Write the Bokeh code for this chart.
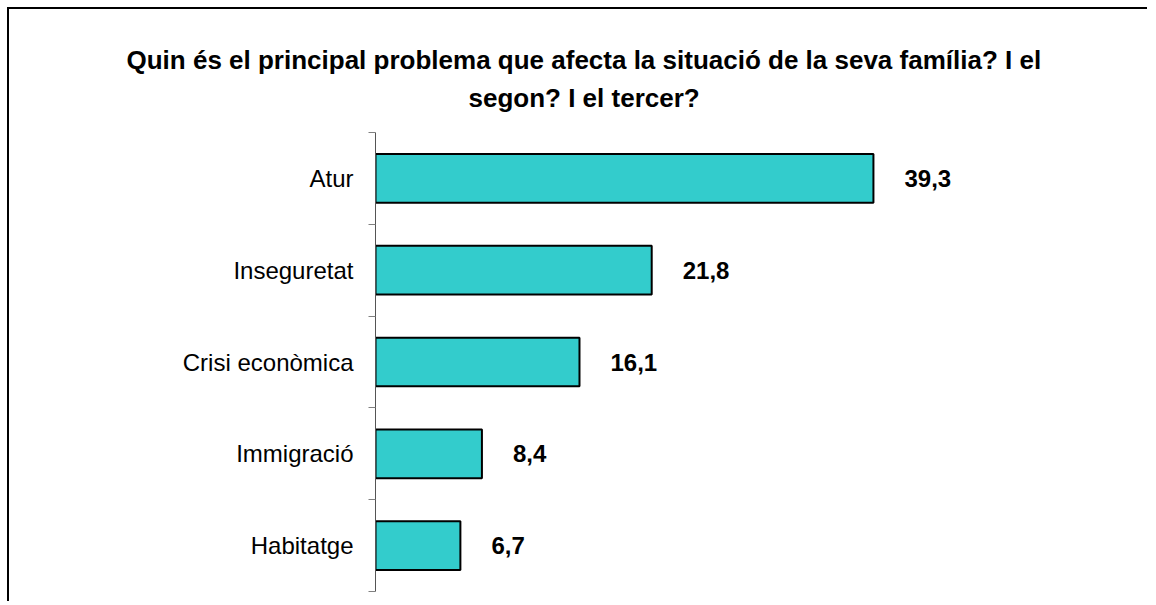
from bokeh.plotting import figure
from bokeh.models import Range1d, FixedTicker, Title
from bokeh.core.properties import value
from bokeh.embed import file_html
from bokeh.resources import INLINE

categories = ["Atur", "Inseguretat", "Crisi econòmica", "Immigració", "Habitatge"]
values = [39.3, 21.8, 16.1, 8.4, 6.7]
value_labels = ["39,3", "21,8", "16,1", "8,4", "6,7"]
title_lines = ["Quin és el principal problema que afecta la situació de la seva família? I el",
               "segon? I el tercer?"]

n = len(categories)
ys = [n - i - 0.5 for i in range(n)]
FONT = "Liberation Sans"

W, H = 1140, 594
ML, MR, MT, MB = 366, 48, 123, 12
X_END = 57.3

p = figure(width=W, height=H, output_backend="svg", toolbar_location=None,
           x_range=Range1d(0, X_END), y_range=Range1d(0, n),
           min_border_left=ML, min_border_right=MR, min_border_bottom=MB, min_border_top=MT)
p.styles = {"border-left": "2px solid black", "border-top": "2px solid black",
            "margin-left": "7px", "margin-top": "7px"}

p.title.text = title_lines[0]
p.title.align = "left"
p.title.offset = -249
p.title.standoff = -29
p.title.text_font = FONT
p.title.text_font_size = "26px"
p.title.text_font_style = "bold"
p.title.text_color = "black"
p.add_layout(Title(text=title_lines[1], align="left", offset=93, standoff=40,
                   text_font=FONT, text_font_size="26px", text_font_style="bold",
                   text_color="black"), "above")

p.hbar(y=ys, right=values, left=0, height=0.53, fill_color="#33CCCC",
       line_color="black", line_width=2)
p.text(x=values, y=ys, text=value_labels, x_offset=31, text_baseline="middle",
       text_align="left", text_font=value(FONT), text_font_size="24px",
       text_font_style="bold", text_color="black")

p.xaxis.visible = False
p.xgrid.visible = False
p.ygrid.visible = False
p.outline_line_color = None

ax = p.yaxis[0]
ax.ticker = FixedTicker(ticks=ys, minor_ticks=list(range(n + 1)))
ax.major_label_overrides = {y: c for y, c in zip(ys, categories)}
ax.major_tick_out = 0
ax.major_tick_in = 0
ax.minor_tick_out = 7
ax.minor_tick_in = 0
ax.axis_line_color = "#555555"
ax.minor_tick_line_color = "#808080"
ax.axis_line_width = 1
ax.major_label_standoff = 15
ax.major_label_text_font = FONT
ax.major_label_text_font_size = "24px"
ax.major_label_text_color = "black"

open("out.html", "w").write(file_html(p, INLINE))
